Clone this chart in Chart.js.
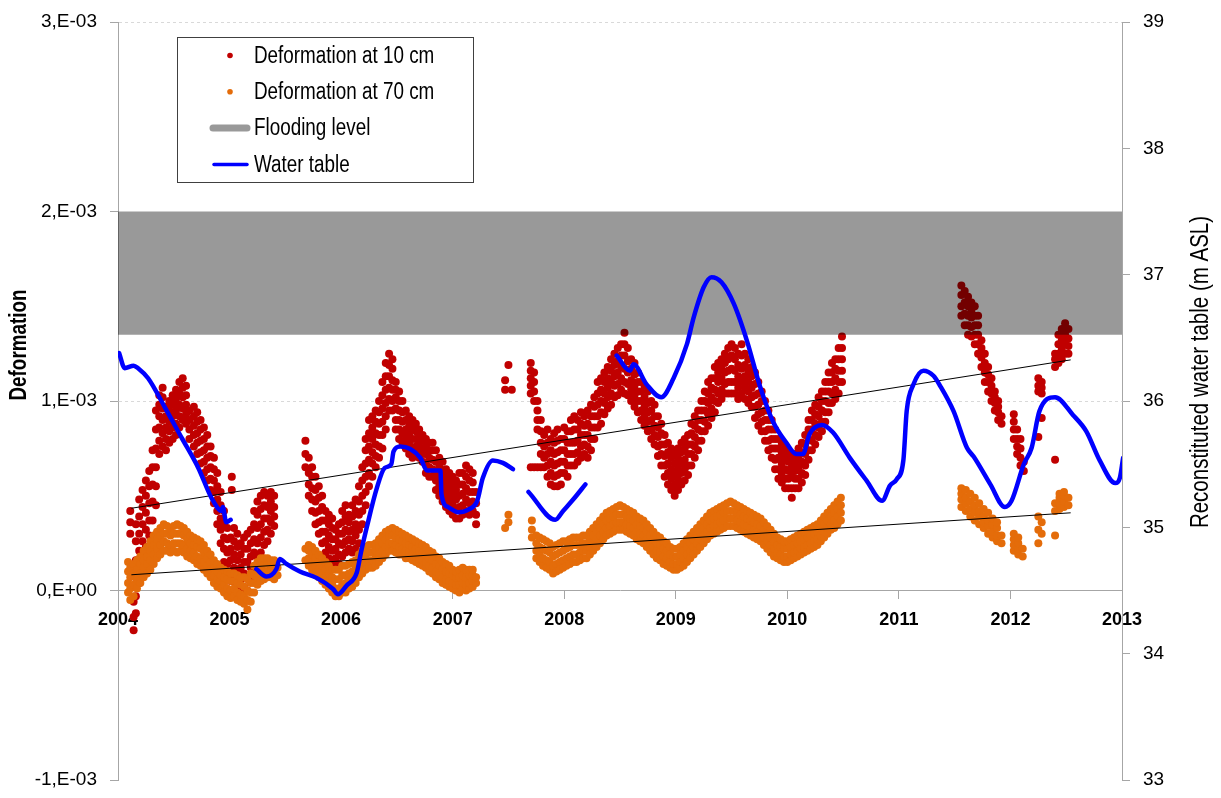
<!DOCTYPE html>
<html>
<head>
<meta charset="utf-8">
<script src="https://cdn.jsdelivr.net/npm/chart.js@4.4.1/dist/chart.umd.min.js"></script>
<style>
  html, body { margin: 0; padding: 0; background: #fff; }
  #wrap { position: relative; width: 1221px; height: 798px; }
</style>
</head>
<body>
<div id="wrap"><canvas id="chart"></canvas></div>
<script>
// deformation values are in units of 1e-3, rows are [year, value, value, ...]
const deform10 = [
  [2004.11, 0.30, 0.36, 0.42],
  [2004.14, -0.21, -0.14, -0.06, 0.02, 0.10],
  [2004.16, -0.12, -0.03, 0.07, 0.16, 0.26, 0.35],
  [2004.19, 0.04, 0.12, 0.21, 0.30, 0.39, 0.48],
  [2004.22, 0.09, 0.18, 0.26, 0.35, 0.44, 0.53],
  [2004.25, 0.15, 0.23, 0.32, 0.41, 0.50, 0.58],
  [2004.28, 0.20, 0.29, 0.37, 0.46, 0.55, 0.63],
  [2004.31, 0.28, 0.37, 0.47, 0.56, 0.65, 0.74],
  [2004.34, 0.45, 0.55, 0.65, 0.75, 0.85, 0.95],
  [2004.37, 0.72, 0.79, 0.86, 0.92, 0.98, 1.03],
  [2004.40, 0.76, 0.83, 0.90, 0.96, 1.02, 1.07],
  [2004.43, 0.74, 0.80, 0.86, 0.92, 0.97],
  [2004.46, 0.78, 0.84, 0.89, 0.95, 1.00],
  [2004.49, 0.80, 0.86, 0.92, 0.98, 1.03],
  [2004.52, 0.82, 0.88, 0.95, 1.01, 1.06],
  [2004.55, 0.86, 0.92, 0.98, 1.04, 1.10],
  [2004.58, 0.90, 0.96, 1.02, 1.07, 1.12],
  [2004.61, 0.88, 0.93, 0.98, 1.03, 1.08],
  [2004.64, 0.80, 0.85, 0.90, 0.95],
  [2004.68, 0.76, 0.82, 0.87, 0.92, 0.97],
  [2004.71, 0.72, 0.78, 0.83, 0.89, 0.94],
  [2004.74, 0.67, 0.73, 0.79, 0.85, 0.90],
  [2004.77, 0.62, 0.68, 0.74, 0.80, 0.86],
  [2004.80, 0.58, 0.64, 0.70, 0.76, 0.82],
  [2004.83, 0.53, 0.59, 0.65, 0.71, 0.76],
  [2004.86, 0.46, 0.52, 0.58, 0.64, 0.70],
  [2004.89, 0.35, 0.42, 0.48, 0.55, 0.62],
  [2004.92, 0.25, 0.32, 0.38, 0.45, 0.52],
  [2004.95, 0.15, 0.22, 0.28, 0.35, 0.42],
  [2004.98, 0.08, 0.14, 0.20, 0.27, 0.33],
  [2005.01, 0.05, 0.10, 0.16, 0.22, 0.28],
  [2005.02, 0.53, 0.60],
  [2005.04, 0.05, 0.12, 0.19, 0.26, 0.33],
  [2005.07, 0.03, 0.10, 0.16, 0.23, 0.30],
  [2005.10, 0.00, 0.06, 0.12, 0.19, 0.25],
  [2005.13, 0.02, 0.09, 0.15, 0.22, 0.28],
  [2005.16, 0.00, 0.07, 0.15, 0.22, 0.30],
  [2005.19, 0.05, 0.12, 0.18, 0.25, 0.32],
  [2005.22, 0.12, 0.20, 0.27, 0.35, 0.42],
  [2005.25, 0.18, 0.25, 0.33, 0.40, 0.47],
  [2005.28, 0.20, 0.28, 0.35, 0.43, 0.50],
  [2005.31, 0.24, 0.31, 0.38, 0.45, 0.52],
  [2005.34, 0.26, 0.32, 0.38, 0.44, 0.50],
  [2005.37, 0.30, 0.36, 0.42, 0.47, 0.52],
  [2005.40, 0.34, 0.39, 0.44, 0.50],
  [2005.68, 0.65, 0.72, 0.79],
  [2005.71, 0.50, 0.56, 0.62, 0.70],
  [2005.74, 0.42, 0.48, 0.54, 0.60, 0.65],
  [2005.77, 0.35, 0.41, 0.47, 0.53, 0.60],
  [2005.80, 0.30, 0.36, 0.42, 0.49, 0.55],
  [2005.83, 0.25, 0.31, 0.37, 0.44, 0.50],
  [2005.86, 0.20, 0.26, 0.31, 0.37, 0.42],
  [2005.89, 0.17, 0.23, 0.29, 0.35, 0.40],
  [2005.92, 0.15, 0.21, 0.27, 0.33, 0.38],
  [2005.95, 0.12, 0.17, 0.22, 0.27, 0.32],
  [2005.98, 0.14, 0.19, 0.25, 0.30, 0.35],
  [2006.01, 0.18, 0.24, 0.30, 0.36, 0.42],
  [2006.04, 0.20, 0.26, 0.32, 0.39, 0.45],
  [2006.07, 0.22, 0.27, 0.31, 0.36, 0.40],
  [2006.10, 0.20, 0.26, 0.32, 0.39, 0.45],
  [2006.13, 0.22, 0.29, 0.35, 0.42, 0.48],
  [2006.16, 0.25, 0.32, 0.40, 0.47, 0.55],
  [2006.19, 0.35, 0.42, 0.50, 0.58, 0.65],
  [2006.22, 0.45, 0.52, 0.60, 0.67, 0.74, 0.80],
  [2006.25, 0.55, 0.62, 0.69, 0.76, 0.83, 0.90],
  [2006.28, 0.60, 0.67, 0.73, 0.80, 0.86, 0.92],
  [2006.31, 0.65, 0.71, 0.77, 0.83, 0.89, 0.95],
  [2006.34, 0.70, 0.76, 0.82, 0.88, 0.94, 1.00],
  [2006.37, 0.75, 0.82, 0.89, 0.96, 1.03, 1.10],
  [2006.40, 0.85, 0.92, 0.99, 1.06, 1.13, 1.20],
  [2006.43, 0.95, 1.01, 1.07, 1.13, 1.19, 1.25],
  [2006.46, 0.95, 1.00, 1.06, 1.11, 1.17, 1.22],
  [2006.49, 0.85, 0.90, 0.96, 1.02, 1.06, 1.10],
  [2006.52, 0.80, 0.85, 0.90, 0.95, 1.00, 1.05],
  [2006.55, 0.78, 0.83, 0.89, 0.94, 1.00],
  [2006.58, 0.75, 0.80, 0.85, 0.90, 0.95],
  [2006.61, 0.72, 0.77, 0.82, 0.87, 0.92],
  [2006.64, 0.70, 0.75, 0.80, 0.85, 0.90],
  [2006.67, 0.72, 0.76, 0.80, 0.84, 0.88],
  [2006.70, 0.70, 0.74, 0.78, 0.82, 0.85],
  [2006.73, 0.68, 0.72, 0.75, 0.79, 0.82],
  [2006.76, 0.62, 0.67, 0.72, 0.76, 0.80],
  [2006.79, 0.60, 0.65, 0.70, 0.74, 0.78],
  [2006.82, 0.60, 0.64, 0.69, 0.74, 0.78],
  [2006.85, 0.53, 0.58, 0.63, 0.68, 0.74],
  [2006.88, 0.50, 0.55, 0.60, 0.65, 0.70],
  [2006.91, 0.47, 0.52, 0.57, 0.62, 0.68],
  [2006.94, 0.44, 0.49, 0.54, 0.59, 0.64],
  [2006.97, 0.42, 0.47, 0.52, 0.57, 0.62],
  [2007.00, 0.40, 0.45, 0.50, 0.55, 0.60],
  [2007.03, 0.38, 0.43, 0.48, 0.53, 0.58],
  [2007.06, 0.38, 0.44, 0.50, 0.56, 0.62],
  [2007.09, 0.40, 0.45, 0.51, 0.56, 0.62],
  [2007.12, 0.42, 0.48, 0.54, 0.60, 0.66],
  [2007.15, 0.40, 0.46, 0.52, 0.58, 0.64],
  [2007.18, 0.42, 0.47, 0.52, 0.57, 0.62],
  [2007.21, 0.35, 0.40, 0.46, 0.52],
  [2007.47, 1.06, 1.11],
  [2007.50, 1.19],
  [2007.53, 1.06],
  [2007.70, 0.65, 1.04, 1.08, 1.12, 1.16, 1.20],
  [2007.73, 0.65, 1.00, 1.05, 1.10, 1.15],
  [2007.76, 0.65, 0.85, 0.90, 0.95, 1.00],
  [2007.79, 0.65, 0.72, 0.78, 0.84, 0.90],
  [2007.82, 0.65, 0.70, 0.76, 0.82],
  [2007.85, 0.60, 0.66, 0.72, 0.78, 0.85],
  [2007.88, 0.56, 0.62, 0.68, 0.74, 0.80],
  [2007.91, 0.55, 0.60, 0.66, 0.72, 0.78, 0.83],
  [2007.94, 0.55, 0.61, 0.67, 0.73, 0.79, 0.85],
  [2007.97, 0.56, 0.62, 0.68, 0.74, 0.80],
  [2008.00, 0.62, 0.68, 0.74, 0.80, 0.86],
  [2008.03, 0.60, 0.66, 0.72, 0.78, 0.84],
  [2008.06, 0.66, 0.72, 0.78, 0.84, 0.90],
  [2008.09, 0.66, 0.72, 0.78, 0.85, 0.92],
  [2008.12, 0.68, 0.73, 0.79, 0.85, 0.90],
  [2008.15, 0.70, 0.76, 0.82, 0.88, 0.94],
  [2008.18, 0.72, 0.77, 0.82, 0.87, 0.92],
  [2008.21, 0.70, 0.76, 0.82, 0.88, 0.95],
  [2008.24, 0.74, 0.80, 0.86, 0.92, 0.98],
  [2008.27, 0.80, 0.86, 0.92, 0.97, 1.02],
  [2008.30, 0.86, 0.92, 0.98, 1.04, 1.10],
  [2008.33, 0.88, 0.94, 1.00, 1.06, 1.12],
  [2008.36, 0.93, 0.99, 1.04, 1.10, 1.15],
  [2008.39, 0.96, 1.02, 1.07, 1.12, 1.18],
  [2008.42, 0.98, 1.04, 1.10, 1.16, 1.22],
  [2008.45, 1.02, 1.08, 1.13, 1.19, 1.25],
  [2008.48, 1.03, 1.09, 1.15, 1.21, 1.28],
  [2008.51, 1.06, 1.12, 1.18, 1.24, 1.30],
  [2008.54, 1.04, 1.10, 1.17, 1.24, 1.30, 1.36],
  [2008.57, 1.03, 1.09, 1.15, 1.21, 1.28],
  [2008.60, 1.00, 1.06, 1.11, 1.17, 1.22],
  [2008.63, 0.97, 1.03, 1.08, 1.14, 1.20],
  [2008.66, 0.94, 1.00, 1.05, 1.10, 1.15],
  [2008.69, 0.90, 0.95, 1.00, 1.05, 1.10],
  [2008.72, 0.87, 0.92, 0.97, 1.02, 1.08],
  [2008.75, 0.84, 0.89, 0.94, 0.99, 1.05],
  [2008.78, 0.80, 0.85, 0.90, 0.95, 1.00],
  [2008.81, 0.77, 0.82, 0.87, 0.92, 0.98],
  [2008.84, 0.71, 0.76, 0.81, 0.86, 0.92],
  [2008.87, 0.66, 0.72, 0.77, 0.83, 0.88],
  [2008.90, 0.60, 0.66, 0.71, 0.77, 0.82],
  [2008.93, 0.56, 0.62, 0.67, 0.73, 0.78],
  [2008.96, 0.53, 0.59, 0.64, 0.70, 0.75],
  [2008.99, 0.50, 0.56, 0.61, 0.67, 0.72],
  [2009.02, 0.53, 0.59, 0.64, 0.70, 0.75],
  [2009.05, 0.56, 0.62, 0.67, 0.73, 0.78],
  [2009.08, 0.58, 0.64, 0.69, 0.75, 0.80],
  [2009.11, 0.61, 0.66, 0.72, 0.77, 0.82],
  [2009.14, 0.66, 0.72, 0.77, 0.83, 0.88],
  [2009.17, 0.70, 0.76, 0.81, 0.87, 0.92],
  [2009.20, 0.74, 0.79, 0.85, 0.90, 0.95],
  [2009.23, 0.79, 0.84, 0.90, 0.95, 1.00],
  [2009.26, 0.84, 0.89, 0.95, 1.00, 1.05],
  [2009.29, 0.87, 0.93, 0.99, 1.04, 1.10],
  [2009.32, 0.91, 0.96, 1.02, 1.07, 1.12],
  [2009.35, 0.94, 1.00, 1.06, 1.12, 1.18],
  [2009.38, 0.99, 1.04, 1.10, 1.15, 1.20],
  [2009.41, 1.01, 1.06, 1.12, 1.17, 1.22],
  [2009.44, 1.04, 1.09, 1.15, 1.20, 1.25],
  [2009.47, 1.04, 1.10, 1.16, 1.22, 1.28],
  [2009.50, 1.04, 1.10, 1.17, 1.24, 1.30],
  [2009.53, 1.04, 1.10, 1.16, 1.22, 1.28],
  [2009.56, 1.01, 1.07, 1.13, 1.19, 1.25],
  [2009.59, 1.04, 1.10, 1.17, 1.24, 1.30],
  [2009.62, 1.01, 1.07, 1.13, 1.19, 1.25],
  [2009.65, 0.99, 1.05, 1.10, 1.16, 1.22],
  [2009.68, 0.97, 1.02, 1.07, 1.13, 1.18],
  [2009.71, 0.91, 0.97, 1.03, 1.09, 1.15],
  [2009.74, 0.87, 0.93, 0.98, 1.04, 1.10],
  [2009.77, 0.84, 0.89, 0.94, 1.00, 1.05],
  [2009.80, 0.79, 0.84, 0.90, 0.95, 1.00],
  [2009.83, 0.74, 0.79, 0.85, 0.90, 0.95],
  [2009.86, 0.70, 0.75, 0.80, 0.85, 0.90],
  [2009.89, 0.64, 0.69, 0.75, 0.80, 0.85],
  [2009.92, 0.59, 0.64, 0.70, 0.75, 0.80],
  [2009.95, 0.57, 0.62, 0.67, 0.73, 0.78],
  [2009.98, 0.54, 0.59, 0.64, 0.70, 0.75],
  [2010.01, 0.54, 0.59, 0.63, 0.68, 0.72],
  [2010.04, 0.49, 0.54, 0.60, 0.65, 0.70],
  [2010.07, 0.54, 0.59, 0.63, 0.68, 0.72],
  [2010.10, 0.54, 0.59, 0.65, 0.70, 0.75],
  [2010.13, 0.57, 0.62, 0.68, 0.73, 0.78],
  [2010.16, 0.61, 0.66, 0.72, 0.77, 0.82],
  [2010.19, 0.69, 0.74, 0.80, 0.85, 0.90],
  [2010.22, 0.74, 0.79, 0.85, 0.90, 0.95],
  [2010.25, 0.77, 0.82, 0.88, 0.93, 0.98],
  [2010.28, 0.81, 0.86, 0.92, 0.97, 1.02],
  [2010.31, 0.84, 0.89, 0.95, 1.00, 1.05],
  [2010.34, 0.89, 0.94, 1.00, 1.05, 1.10],
  [2010.37, 0.94, 0.99, 1.05, 1.10, 1.15],
  [2010.40, 0.99, 1.04, 1.10, 1.15, 1.20],
  [2010.43, 1.01, 1.06, 1.12, 1.17, 1.22],
  [2010.46, 1.04, 1.10, 1.16, 1.22, 1.28],
  [2010.49, 1.10, 1.16, 1.22, 1.28, 1.34],
  [2011.56, 1.45, 1.50, 1.56, 1.61],
  [2011.59, 1.40, 1.46, 1.52, 1.58],
  [2011.62, 1.35, 1.40, 1.45, 1.50, 1.55],
  [2011.65, 1.34, 1.39, 1.44, 1.48, 1.52],
  [2011.68, 1.30, 1.35, 1.40, 1.45, 1.50],
  [2011.71, 1.25, 1.30, 1.35, 1.40, 1.45],
  [2011.74, 1.18, 1.23, 1.28, 1.32],
  [2011.77, 1.10, 1.15, 1.20, 1.25],
  [2011.80, 1.05, 1.10, 1.14, 1.18],
  [2011.83, 1.00, 1.04, 1.08, 1.12],
  [2011.86, 0.95, 0.99, 1.02, 1.05],
  [2011.89, 0.90, 0.94, 0.97, 1.00],
  [2011.92, 0.88, 0.92],
  [2012.03, 0.80, 0.85, 0.89, 0.93],
  [2012.06, 0.72, 0.76, 0.80, 0.85],
  [2012.09, 0.66, 0.70, 0.75, 0.80],
  [2012.12, 0.63, 0.68],
  [2012.25, 0.81, 1.05, 1.08, 1.12],
  [2012.28, 0.91, 1.04, 1.07, 1.10],
  [2012.40, 0.69, 1.18, 1.22, 1.25],
  [2012.43, 1.20, 1.25, 1.30, 1.35],
  [2012.46, 1.22, 1.27, 1.32, 1.38],
  [2012.49, 1.25, 1.30, 1.35, 1.41],
  [2012.52, 1.25, 1.29, 1.33, 1.38]
];

const deform70 = [
  [2004.09, -0.01, 0.04, 0.10, 0.15],
  [2004.11, -0.05, 0.01, 0.07, 0.12],
  [2004.14, -0.03, 0.03, 0.09, 0.14],
  [2004.17, 0.01, 0.06, 0.11, 0.16],
  [2004.20, 0.04, 0.09, 0.14, 0.18],
  [2004.23, 0.07, 0.12, 0.16, 0.21],
  [2004.26, 0.09, 0.14, 0.18, 0.23],
  [2004.29, 0.11, 0.16, 0.21, 0.26],
  [2004.32, 0.14, 0.19, 0.24, 0.29],
  [2004.35, 0.17, 0.22, 0.27, 0.31],
  [2004.38, 0.19, 0.24, 0.29, 0.33],
  [2004.41, 0.21, 0.26, 0.30, 0.35],
  [2004.44, 0.21, 0.25, 0.30, 0.34],
  [2004.47, 0.20, 0.24, 0.29, 0.33],
  [2004.50, 0.21, 0.25, 0.30, 0.34],
  [2004.53, 0.20, 0.25, 0.30, 0.35],
  [2004.56, 0.21, 0.25, 0.30, 0.34],
  [2004.59, 0.20, 0.24, 0.29, 0.33],
  [2004.62, 0.18, 0.22, 0.27, 0.31],
  [2004.65, 0.17, 0.21, 0.25, 0.29],
  [2004.68, 0.16, 0.20, 0.24, 0.28],
  [2004.71, 0.14, 0.18, 0.23, 0.27],
  [2004.74, 0.13, 0.17, 0.22, 0.26],
  [2004.77, 0.11, 0.15, 0.20, 0.24],
  [2004.80, 0.09, 0.13, 0.17, 0.21],
  [2004.83, 0.07, 0.11, 0.15, 0.19],
  [2004.86, 0.04, 0.08, 0.12, 0.16],
  [2004.89, 0.02, 0.06, 0.10, 0.14],
  [2004.92, 0.01, 0.05, 0.08, 0.12],
  [2004.95, -0.01, 0.03, 0.07, 0.11],
  [2004.98, -0.03, 0.01, 0.06, 0.10],
  [2005.01, -0.04, 0.00, 0.05, 0.09],
  [2005.04, -0.03, 0.01, 0.05, 0.09],
  [2005.07, -0.05, -0.01, 0.04, 0.08],
  [2005.10, -0.06, -0.02, 0.03, 0.07],
  [2005.13, -0.07, -0.03, 0.02, 0.07],
  [2005.16, -0.10, -0.05, 0.00, 0.06],
  [2005.19, -0.06, -0.01, 0.04, 0.09],
  [2005.22, -0.01, 0.04, 0.08, 0.13],
  [2005.25, 0.03, 0.07, 0.11, 0.15],
  [2005.28, 0.05, 0.09, 0.13, 0.17],
  [2005.31, 0.06, 0.10, 0.14, 0.17],
  [2005.34, 0.07, 0.10, 0.14, 0.17],
  [2005.37, 0.07, 0.10, 0.13, 0.16],
  [2005.40, 0.06, 0.10, 0.13, 0.16],
  [2005.43, 0.08, 0.12],
  [2005.68, 0.16, 0.22],
  [2005.71, 0.13, 0.17, 0.21, 0.24],
  [2005.74, 0.11, 0.15, 0.19, 0.23],
  [2005.77, 0.09, 0.13, 0.17, 0.21],
  [2005.80, 0.07, 0.11, 0.15, 0.19],
  [2005.83, 0.05, 0.09, 0.13, 0.17],
  [2005.86, 0.03, 0.07, 0.11, 0.15],
  [2005.89, 0.01, 0.05, 0.09, 0.13],
  [2005.92, -0.01, 0.03, 0.07, 0.11],
  [2005.95, -0.03, 0.01, 0.06, 0.11],
  [2005.98, -0.03, 0.01, 0.06, 0.11],
  [2006.01, -0.01, 0.03, 0.08, 0.13],
  [2006.04, -0.01, 0.04, 0.08, 0.13],
  [2006.07, 0.01, 0.05, 0.09, 0.14],
  [2006.10, 0.02, 0.06, 0.10, 0.15],
  [2006.13, 0.04, 0.08, 0.12, 0.16],
  [2006.16, 0.07, 0.11, 0.15, 0.19],
  [2006.19, 0.09, 0.13, 0.17, 0.21],
  [2006.22, 0.11, 0.15, 0.19, 0.23],
  [2006.25, 0.12, 0.16, 0.20, 0.24],
  [2006.28, 0.12, 0.16, 0.20, 0.24],
  [2006.31, 0.13, 0.17, 0.21, 0.25],
  [2006.34, 0.15, 0.19, 0.23, 0.27],
  [2006.37, 0.17, 0.21, 0.25, 0.29],
  [2006.40, 0.19, 0.23, 0.27, 0.31],
  [2006.43, 0.21, 0.25, 0.29, 0.32],
  [2006.46, 0.21, 0.25, 0.29, 0.33],
  [2006.49, 0.20, 0.24, 0.28, 0.32],
  [2006.52, 0.19, 0.23, 0.27, 0.31],
  [2006.55, 0.19, 0.22, 0.26, 0.30],
  [2006.58, 0.17, 0.21, 0.25, 0.29],
  [2006.61, 0.17, 0.20, 0.24, 0.28],
  [2006.64, 0.16, 0.19, 0.23, 0.27],
  [2006.67, 0.15, 0.18, 0.22, 0.26],
  [2006.70, 0.14, 0.17, 0.21, 0.25],
  [2006.73, 0.13, 0.16, 0.20, 0.24],
  [2006.76, 0.12, 0.15, 0.19, 0.23],
  [2006.79, 0.10, 0.13, 0.17, 0.21],
  [2006.82, 0.09, 0.12, 0.16, 0.20],
  [2006.85, 0.07, 0.10, 0.14, 0.18],
  [2006.88, 0.06, 0.09, 0.13, 0.17],
  [2006.91, 0.04, 0.07, 0.11, 0.15],
  [2006.94, 0.03, 0.06, 0.10, 0.14],
  [2006.97, 0.02, 0.05, 0.09, 0.13],
  [2007.00, 0.01, 0.04, 0.08, 0.11],
  [2007.03, 0.00, 0.03, 0.07, 0.10],
  [2007.06, -0.01, 0.03, 0.07, 0.11],
  [2007.09, 0.01, 0.04, 0.08, 0.12],
  [2007.12, 0.00, 0.03, 0.07, 0.11],
  [2007.15, 0.01, 0.04, 0.08, 0.11],
  [2007.18, 0.02, 0.05, 0.08, 0.11],
  [2007.21, 0.04, 0.07],
  [2007.47, 0.33],
  [2007.50, 0.36, 0.40],
  [2007.71, 0.28, 0.32, 0.37],
  [2007.75, 0.17, 0.21, 0.25, 0.29],
  [2007.78, 0.15, 0.19, 0.23, 0.28],
  [2007.81, 0.13, 0.17, 0.22, 0.27],
  [2007.84, 0.12, 0.16, 0.21, 0.26],
  [2007.87, 0.11, 0.15, 0.20, 0.25],
  [2007.90, 0.09, 0.13, 0.18, 0.23],
  [2007.93, 0.10, 0.14, 0.19, 0.24],
  [2007.96, 0.11, 0.15, 0.20, 0.25],
  [2007.99, 0.12, 0.16, 0.21, 0.26],
  [2008.02, 0.13, 0.17, 0.22, 0.26],
  [2008.05, 0.14, 0.18, 0.23, 0.27],
  [2008.08, 0.15, 0.19, 0.24, 0.28],
  [2008.11, 0.15, 0.19, 0.24, 0.28],
  [2008.14, 0.16, 0.20, 0.24, 0.28],
  [2008.17, 0.17, 0.21, 0.25, 0.29],
  [2008.20, 0.17, 0.21, 0.25, 0.29],
  [2008.23, 0.19, 0.23, 0.27, 0.31],
  [2008.26, 0.21, 0.25, 0.29, 0.33],
  [2008.29, 0.23, 0.27, 0.31, 0.35],
  [2008.32, 0.25, 0.29, 0.33, 0.37],
  [2008.35, 0.27, 0.31, 0.35, 0.39],
  [2008.38, 0.29, 0.33, 0.37, 0.41],
  [2008.41, 0.30, 0.34, 0.38, 0.42],
  [2008.44, 0.31, 0.35, 0.39, 0.43],
  [2008.47, 0.32, 0.36, 0.40, 0.44],
  [2008.50, 0.32, 0.36, 0.40, 0.45],
  [2008.53, 0.32, 0.36, 0.40, 0.44],
  [2008.56, 0.31, 0.35, 0.39, 0.43],
  [2008.59, 0.30, 0.34, 0.38, 0.42],
  [2008.62, 0.29, 0.33, 0.37, 0.41],
  [2008.65, 0.27, 0.31, 0.35, 0.39],
  [2008.68, 0.26, 0.30, 0.34, 0.38],
  [2008.71, 0.25, 0.29, 0.33, 0.37],
  [2008.74, 0.23, 0.27, 0.31, 0.35],
  [2008.77, 0.21, 0.25, 0.29, 0.33],
  [2008.80, 0.19, 0.23, 0.27, 0.31],
  [2008.83, 0.17, 0.21, 0.25, 0.29],
  [2008.86, 0.16, 0.20, 0.24, 0.28],
  [2008.89, 0.14, 0.18, 0.22, 0.26],
  [2008.92, 0.13, 0.17, 0.21, 0.25],
  [2008.95, 0.12, 0.15, 0.19, 0.23],
  [2008.98, 0.11, 0.14, 0.18, 0.22],
  [2009.01, 0.11, 0.14, 0.18, 0.22],
  [2009.04, 0.12, 0.15, 0.19, 0.23],
  [2009.07, 0.13, 0.17, 0.21, 0.25],
  [2009.10, 0.15, 0.19, 0.23, 0.27],
  [2009.13, 0.17, 0.21, 0.25, 0.29],
  [2009.16, 0.19, 0.23, 0.27, 0.31],
  [2009.19, 0.21, 0.25, 0.29, 0.33],
  [2009.22, 0.23, 0.27, 0.31, 0.35],
  [2009.25, 0.25, 0.29, 0.33, 0.37],
  [2009.28, 0.27, 0.31, 0.35, 0.39],
  [2009.31, 0.29, 0.33, 0.37, 0.41],
  [2009.34, 0.30, 0.34, 0.38, 0.42],
  [2009.37, 0.31, 0.35, 0.39, 0.43],
  [2009.40, 0.32, 0.36, 0.40, 0.44],
  [2009.43, 0.33, 0.37, 0.41, 0.45],
  [2009.46, 0.34, 0.38, 0.42, 0.46],
  [2009.49, 0.34, 0.38, 0.42, 0.47],
  [2009.52, 0.34, 0.38, 0.42, 0.46],
  [2009.55, 0.33, 0.37, 0.41, 0.45],
  [2009.58, 0.32, 0.36, 0.40, 0.44],
  [2009.61, 0.31, 0.35, 0.39, 0.43],
  [2009.64, 0.30, 0.34, 0.38, 0.42],
  [2009.67, 0.29, 0.33, 0.37, 0.41],
  [2009.70, 0.28, 0.32, 0.36, 0.40],
  [2009.73, 0.27, 0.31, 0.35, 0.39],
  [2009.76, 0.26, 0.30, 0.34, 0.38],
  [2009.79, 0.24, 0.28, 0.32, 0.36],
  [2009.82, 0.22, 0.26, 0.30, 0.34],
  [2009.85, 0.20, 0.24, 0.28, 0.32],
  [2009.88, 0.18, 0.22, 0.26, 0.30],
  [2009.91, 0.17, 0.20, 0.24, 0.28],
  [2009.94, 0.16, 0.19, 0.23, 0.27],
  [2009.97, 0.15, 0.18, 0.22, 0.26],
  [2010.00, 0.15, 0.18, 0.22, 0.26],
  [2010.03, 0.16, 0.19, 0.23, 0.27],
  [2010.06, 0.17, 0.20, 0.24, 0.28],
  [2010.09, 0.18, 0.21, 0.25, 0.29],
  [2010.12, 0.19, 0.22, 0.26, 0.30],
  [2010.15, 0.20, 0.23, 0.27, 0.31],
  [2010.18, 0.21, 0.24, 0.28, 0.32],
  [2010.21, 0.22, 0.25, 0.29, 0.33],
  [2010.24, 0.23, 0.26, 0.30, 0.34],
  [2010.27, 0.24, 0.27, 0.31, 0.35],
  [2010.30, 0.26, 0.29, 0.33, 0.37],
  [2010.33, 0.28, 0.31, 0.35, 0.39],
  [2010.36, 0.30, 0.33, 0.37, 0.41],
  [2010.39, 0.32, 0.35, 0.39, 0.43],
  [2010.42, 0.33, 0.37, 0.41, 0.45],
  [2010.45, 0.35, 0.39, 0.43, 0.47],
  [2010.48, 0.37, 0.41, 0.45, 0.49],
  [2011.56, 0.44, 0.48, 0.51, 0.54],
  [2011.60, 0.42, 0.46, 0.49, 0.53],
  [2011.64, 0.39, 0.43, 0.47, 0.51],
  [2011.68, 0.37, 0.41, 0.45, 0.49],
  [2011.72, 0.35, 0.39, 0.42, 0.46],
  [2011.76, 0.33, 0.36, 0.39, 0.43],
  [2011.80, 0.30, 0.34, 0.37, 0.41],
  [2011.84, 0.28, 0.31, 0.35, 0.38],
  [2011.88, 0.26, 0.29, 0.33, 0.36],
  [2011.92, 0.25, 0.29],
  [2012.03, 0.21, 0.24, 0.27, 0.30],
  [2012.07, 0.19, 0.22, 0.25, 0.28],
  [2012.11, 0.18, 0.22],
  [2012.25, 0.25, 0.32, 0.39],
  [2012.28, 0.30, 0.36],
  [2012.40, 0.29, 0.42, 0.46],
  [2012.44, 0.43, 0.46, 0.49, 0.51],
  [2012.48, 0.44, 0.47, 0.50, 0.52],
  [2012.52, 0.45, 0.49]
];

// reconstituted water table (m ASL); null marks a gap in the record
const wtYear = [
  2004.01, 2004.06, 2004.14, 2004.18, 2004.27, 2004.42, 2004.57, 2004.72, 2004.84, 2004.93, 2004.94, 2004.97, 2005.01,
  2005.12,
  2005.24, 2005.33, 2005.42, 2005.45, 2005.51, 2005.63, 2005.78, 2005.93, 2005.97, 2006.05, 2006.14, 2006.18, 2006.23,
  2006.32, 2006.39, 2006.45, 2006.47, 2006.53, 2006.62, 2006.71, 2006.77, 2006.89, 2006.90, 2006.96, 2007.05, 2007.14,
  2007.22, 2007.27, 2007.36, 2007.45, 2007.54,
  2007.60,
  2007.68, 2007.92, 2007.99, 2008.08, 2008.19,
  2008.30,
  2008.47, 2008.59, 2008.62, 2008.74, 2008.87, 2008.98, 2009.10, 2009.16, 2009.25, 2009.32, 2009.41, 2009.52, 2009.64,
  2009.75, 2009.87, 2009.99, 2010.08, 2010.14, 2010.20, 2010.31, 2010.41, 2010.56, 2010.71, 2010.85, 2010.92, 2010.98,
  2011.04, 2011.07, 2011.13, 2011.22, 2011.31, 2011.37, 2011.49, 2011.61, 2011.67, 2011.82, 2011.95, 2012.01, 2012.12,
  2012.19, 2012.26, 2012.40, 2012.56, 2012.68, 2012.80, 2012.94, 2012.98, 2013.01
];
const wtLevel = [
  36.38, 36.26, 36.28, 36.26, 36.18, 35.95, 35.71, 35.47, 35.23, 35.13, 35.16, 35.04, 35.06,
  null,
  34.67, 34.61, 34.67, 34.75, 34.71, 34.65, 34.60, 34.51, 34.47, 34.54, 34.64, 34.81, 35.00,
  35.31, 35.47, 35.50, 35.60, 35.64, 35.62, 35.55, 35.45, 35.45, 35.26, 35.16, 35.12, 35.14,
  35.21, 35.39, 35.53, 35.51, 35.46,
  null,
  35.28, 35.06, 35.13, 35.22, 35.34,
  null,
  36.36, 36.24, 36.29, 36.13, 36.03, 36.18, 36.45, 36.66, 36.90, 36.98, 36.94, 36.77, 36.47,
  36.13, 35.84, 35.67, 35.58, 35.58, 35.74, 35.81, 35.75, 35.55, 35.37, 35.21, 35.33, 35.38,
  35.53, 35.92, 36.13, 36.24, 36.20, 36.12, 35.92, 35.63, 35.56, 35.34, 35.16, 35.21, 35.50,
  35.63, 35.92, 36.03, 35.89, 35.76, 35.53, 35.35, 35.39, 35.55
];

// flooding level band (1e-3 units)
const floodTop = 2.0;
const floodBottom = 1.35;
const floodYears = [2004, 2013];

// linear trends of the two deformation series: [year, value(1e-3)]
const trend10 = [[2004.12, 0.434], [2012.54, 1.217]];
const trend70 = [[2004.12, 0.083], [2012.54, 0.410]];

const yearTicks = [2004, 2005, 2006, 2007, 2008, 2009, 2010, 2011, 2012, 2013];
const deformTicks = [-1, 0, 1, 2, 3];
const levelTicks = [33, 34, 35, 36, 37, 38, 39];

const FONT = "'Liberation Sans', Arial, sans-serif";
const RED = '#c00000';
const ORANGE = '#e46c0a';
const BLUE = '#0000ff';
const AXIS_GREY = '#a6a6a6';
const NARROW = 0.82; // horizontal squeeze to mimic the narrow face of the original

const toPoints = rows => rows.flatMap(([t, ...vals]) => vals.map(v => ({ x: t, y: v * 1e-3 })));
const sciLabel = v => {
  if (Math.abs(v) < 1e-12) return '0,E+00';
  const e = Math.floor(Math.log10(Math.abs(v)) + 1e-9);
  const m = Math.round(v / Math.pow(10, e));
  return m + ',E' + (e < 0 ? '-' : '+') + String(Math.abs(e)).padStart(2, '0');
};

const legendItems = [
  { label: 'Deformation at 10 cm', kind: 'dot', color: RED },
  { label: 'Deformation at 70 cm', kind: 'dot', color: ORANGE },
  { label: 'Flooding level', kind: 'band', color: '#999999' },
  { label: 'Water table', kind: 'line', color: BLUE }
];

const narrowText = (ctx, text, x, y, rotate) => {
  ctx.save();
  ctx.translate(x, y);
  if (rotate) ctx.rotate(-Math.PI / 2);
  ctx.scale(NARROW, 1);
  ctx.fillText(text, 0, 0);
  ctx.restore();
};

const boxLegend = {
  id: 'boxLegend',
  afterDraw(chart) {
    const ctx = chart.ctx;
    ctx.save();
    ctx.fillStyle = '#fff';
    ctx.fillRect(177.5, 37.5, 296, 145);
    ctx.strokeStyle = '#404040';
    ctx.lineWidth = 1;
    ctx.strokeRect(177.5, 37.5, 296, 145);
    ctx.font = '23px ' + FONT;
    ctx.textBaseline = 'middle';
    ctx.textAlign = 'left';
    legendItems.forEach((it, i) => {
      const y = 55.5 + i * 36.3;
      if (it.kind === 'dot') {
        ctx.fillStyle = it.color;
        ctx.beginPath();
        ctx.arc(230, y, 2.8, 0, Math.PI * 2);
        ctx.fill();
      } else {
        ctx.strokeStyle = it.color;
        ctx.lineCap = 'round';
        ctx.lineWidth = it.kind === 'band' ? 7 : 3.5;
        ctx.beginPath();
        ctx.moveTo(it.kind === 'band' ? 213 : 214, y);
        ctx.lineTo(247, y);
        ctx.stroke();
      }
      ctx.fillStyle = '#000';
      narrowText(ctx, it.label, 254, y + 1, false);
    });
    ctx.restore();
  }
};

const axisTitles = {
  id: 'axisTitles',
  afterDraw(chart) {
    const ctx = chart.ctx;
    ctx.save();
    ctx.fillStyle = '#000';
    ctx.textAlign = 'center';
    ctx.textBaseline = 'middle';
    ctx.font = 'bold 23px ' + FONT;
    narrowText(ctx, 'Deformation', 20, 345, true);
    ctx.font = '25px ' + FONT;
    narrowText(ctx, 'Reconstituted water table (m ASL)', 1201, 372, true);
    ctx.restore();
  }
};

new Chart(document.getElementById('chart'), {
  type: 'scatter',
  data: {
    datasets: [
      {
        label: 'Deformation at 10 cm',
        data: toPoints(deform10),
        backgroundColor: RED,
        borderWidth: 0,
        pointRadius: 4,
        order: 5
      },
      {
        label: 'Deformation at 70 cm',
        data: toPoints(deform70),
        backgroundColor: ORANGE,
        borderWidth: 0,
        pointRadius: 4,
        order: 4
      },
      {
        label: 'Flooding level',
        type: 'line',
        data: floodYears.map(x => ({ x, y: floodTop * 1e-3 })),
        borderWidth: 0,
        pointRadius: 0,
        backgroundColor: 'rgba(0, 0, 0, 0.4)',
        fill: { value: floodBottom * 1e-3 },
        order: 3
      },
      {
        label: 'trend 10',
        type: 'line',
        data: trend10.map(([x, v]) => ({ x, y: v * 1e-3 })),
        borderColor: '#000',
        borderWidth: 1,
        pointRadius: 0,
        order: 2
      },
      {
        label: 'trend 70',
        type: 'line',
        data: trend70.map(([x, v]) => ({ x, y: v * 1e-3 })),
        borderColor: '#000',
        borderWidth: 1,
        pointRadius: 0,
        order: 2
      },
      {
        label: 'Water table',
        type: 'line',
        yAxisID: 'y2',
        data: wtYear.map((x, i) => ({ x, y: wtLevel[i] })),
        borderColor: BLUE,
        borderWidth: 4.5,
        pointRadius: 0,
        cubicInterpolationMode: 'monotone',
        borderCapStyle: 'round',
        borderJoinStyle: 'round',
        spanGaps: false,
        order: 1
      }
    ]
  },
  options: {
    responsive: true,
    maintainAspectRatio: false,
    animation: false,
    layout: { padding: { left: 0, right: 0, top: 22, bottom: 18 } },
    plugins: { legend: { display: false }, tooltip: { enabled: false } },
    scales: {
      x: {
        type: 'linear',
        position: { y: 0 },
        min: 2004,
        max: 2013,
        afterBuildTicks: s => { s.ticks = yearTicks.map(value => ({ value })); },
        afterFit: s => { s.paddingLeft = 0; s.paddingRight = 0; },
        grid: { drawOnChartArea: false, drawTicks: true, tickLength: 8, color: AXIS_GREY, tickColor: AXIS_GREY },
        border: { display: true, color: AXIS_GREY, width: 1 },
        ticks: {
          color: '#000',
          padding: 11,
          maxRotation: 0,
          font: { family: FONT, size: 18, weight: 'bold' },
          callback: v => String(v)
        }
      },
      y: {
        position: 'left',
        min: -1e-3,
        max: 3e-3,
        afterBuildTicks: s => { s.ticks = deformTicks.map(v => ({ value: v * 1e-3 })); },
        afterFit: s => { s.width = 118; s.paddingTop = 0; s.paddingBottom = 0; },
        grid: {
          drawTicks: true,
          tickLength: 8,
          tickColor: AXIS_GREY,
          color: c => {
            const v = Math.round(c.tick.value * 1e3);
            return (v === 3 || v === 1) ? '#d9d9d9' : 'rgba(0,0,0,0)';
          }
        },
        border: { display: true, color: AXIS_GREY, width: 1, dash: [3, 3] },
        ticks: {
          color: '#000',
          padding: 13,
          font: { family: FONT, size: 19 },
          callback: v => sciLabel(v)
        }
      },
      y2: {
        position: 'right',
        min: 33,
        max: 39,
        afterBuildTicks: s => { s.ticks = levelTicks.map(value => ({ value })); },
        afterFit: s => { s.width = 99; s.paddingTop = 0; s.paddingBottom = 0; },
        grid: { drawOnChartArea: false, drawTicks: true, tickLength: 8, color: AXIS_GREY, tickColor: AXIS_GREY },
        border: { display: true, color: AXIS_GREY, width: 1 },
        ticks: {
          color: '#000',
          padding: 13,
          font: { family: FONT, size: 19 },
          callback: v => String(v)
        }
      }
    }
  },
  plugins: [axisTitles, boxLegend]
});
</script>
</body>
</html>
